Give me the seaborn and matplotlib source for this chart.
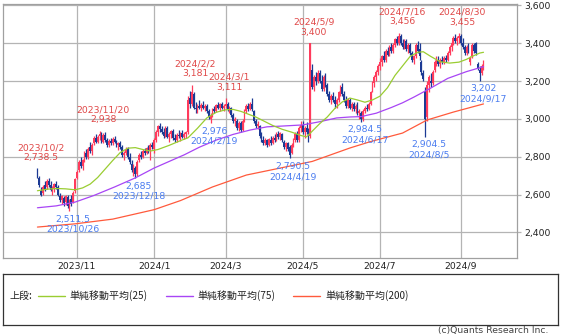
import numpy as np
import pandas as pd
import matplotlib
matplotlib.use("Agg")
import matplotlib.pyplot as plt
import seaborn as sns

# ---------------- data ----------------
holidays = ["2023-10-09", "2023-11-03", "2023-11-23", "2024-01-01", "2024-01-02",
            "2024-01-03", "2024-01-08", "2024-02-12", "2024-02-23", "2024-03-20",
            "2024-04-29", "2024-05-03", "2024-05-06", "2024-07-15", "2024-08-12",
            "2024-09-16"]
first_day = "2023-10-02"
last_day = "2024-09-19"

opens = [
    2735, 2690, 2620, 2610, 2650, 2640, 2670, 2650, 2620, 2630, 2655, 2640, 2590, 2570, 2580, 2560, 2585, 2540, 2575, 2560, 2620,
    2690, 2730, 2770, 2750, 2790, 2820, 2800, 2850, 2830, 2870, 2900, 2880, 2910, 2920, 2880, 2915, 2890, 2860, 2885, 2870,
    2895, 2880, 2860, 2870, 2850, 2810, 2820, 2840, 2800, 2760, 2730, 2740, 2710, 2780, 2810, 2800, 2830, 2820, 2845, 2830, 2860,
    2840, 2890, 2930, 2960, 2945, 2930, 2910, 2950, 2905, 2920, 2935, 2900, 2890, 2915, 2910, 2925, 2905, 2920, 2930,
    3110, 3080, 3130, 3060, 3050, 3070, 3060, 3075, 3060, 3070, 3040, 3000, 3020, 3050, 3040, 3075, 3060, 3080, 3055,
    3070, 3080, 3050, 3060, 3020, 2990, 2990, 2950, 2980, 2940, 2990, 3040, 3070, 3050, 3080, 3040, 2990, 2960, 2960, 2910,
    2890, 2870, 2890, 2860, 2890, 2870, 2900, 2890, 2920, 2905, 2920, 2880, 2850, 2870, 2850, 2820, 2860, 2890, 2920, 2890, 2950,
    2970, 2930, 2950, 2930, 2910, 3260, 3170, 3220, 3200, 3240, 3200, 3160, 3220, 3180, 3130, 3100, 3120, 3100, 3080, 3100, 3140,
    3170, 3130, 3100, 3070, 3100, 3060, 3080, 3050, 3070, 3030, 3030, 3000, 3040, 3060, 3050, 3080, 3150, 3190, 3220, 3250,
    3280, 3300, 3330, 3310, 3360, 3340, 3380, 3360, 3390, 3420, 3400, 3440, 3400, 3380, 3410, 3370, 3390, 3350, 3310, 3330, 3390, 3370,
    3300, 3240, 3150, 3010, 3180, 3200, 3190, 3260, 3300, 3310, 3290, 3310, 3300, 3320, 3310, 3350, 3380, 3400, 3430, 3410, 3430,
    3440, 3400, 3380, 3350, 3380, 3300, 3330, 3390, 3400, 3290, 3260, 3240, 3270,
]
highs = [
    2738.5, 2700, 2640, 2650, 2670, 2680, 2685, 2670, 2645, 2660, 2670, 2650, 2610, 2600, 2590, 2600, 2595, 2575, 2600, 2620, 2690,
    2730, 2780, 2800, 2790, 2830, 2840, 2850, 2880, 2870, 2910, 2920, 2915, 2938, 2930, 2925, 2930, 2900, 2895, 2900, 2905,
    2910, 2890, 2880, 2885, 2860, 2830, 2850, 2850, 2820, 2780, 2760, 2750, 2780, 2820, 2830, 2840, 2845, 2850, 2860, 2870, 2880,
    2900, 2940, 2970, 2980, 2960, 2950, 2960, 2960, 2930, 2940, 2945, 2920, 2925, 2940, 2930, 2940, 2930, 2935, 3120,
    3150, 3181, 3140, 3090, 3080, 3100, 3085, 3095, 3080, 3080, 3050, 3030, 3060, 3070, 3080, 3090, 3085, 3090, 3080,
    3111, 3090, 3070, 3065, 3030, 3010, 3000, 2990, 2990, 3000, 3050, 3080, 3085, 3090, 3110, 3045, 3000, 2990, 2970, 2930,
    2910, 2900, 2895, 2900, 2910, 2910, 2920, 2930, 2935, 2930, 2925, 2890, 2880, 2880, 2860, 2870, 2900, 2930, 2935, 2960, 2990,
    2990, 2960, 2985, 2950, 3400, 3290, 3230, 3250, 3260, 3260, 3230, 3230, 3240, 3190, 3150, 3130, 3140, 3120, 3110, 3150, 3180,
    3190, 3150, 3120, 3110, 3110, 3090, 3090, 3080, 3090, 3050, 3040, 3050, 3070, 3080, 3090, 3150, 3200, 3230, 3260, 3290,
    3320, 3340, 3360, 3370, 3380, 3390, 3400, 3400, 3430, 3440, 3456, 3450, 3420, 3420, 3420, 3400, 3400, 3360, 3340, 3400, 3410, 3400,
    3310, 3260, 3170, 3200, 3230, 3240, 3260, 3310, 3330, 3330, 3320, 3330, 3330, 3340, 3360, 3390, 3410, 3440, 3450, 3440, 3455,
    3450, 3430, 3390, 3390, 3400, 3330, 3400, 3400, 3405, 3300, 3280, 3290, 3310,
]
lows = [
    2690, 2640, 2590, 2600, 2620, 2630, 2640, 2620, 2600, 2615, 2630, 2590, 2560, 2550, 2540, 2545, 2530, 2511.5, 2540, 2555, 2610,
    2680, 2720, 2740, 2730, 2770, 2790, 2790, 2820, 2810, 2860, 2870, 2870, 2890, 2870, 2875, 2880, 2850, 2850, 2860, 2860,
    2870, 2850, 2835, 2840, 2800, 2780, 2810, 2790, 2760, 2720, 2700, 2685, 2700, 2770, 2790, 2795, 2810, 2815, 2820, 2780, 2840,
    2820, 2880, 2910, 2930, 2920, 2900, 2905, 2900, 2880, 2900, 2890, 2880, 2880, 2900, 2885, 2900, 2895, 2900, 2920,
    3060, 3070, 3050, 3030, 3030, 3050, 3040, 3050, 3040, 3030, 3000, 2976, 3010, 3030, 3035, 3050, 3040, 3050, 3040,
    3060, 3040, 3030, 3010, 2980, 2960, 2940, 2935, 2930, 2935, 2985, 3030, 3040, 3045, 3040, 2980, 2950, 2945, 2900, 2880,
    2860, 2860, 2850, 2855, 2860, 2865, 2880, 2885, 2895, 2890, 2880, 2840, 2830, 2830, 2790.5, 2815, 2850, 2880, 2880, 2880, 2930,
    2920, 2900, 2920, 2880, 2900, 3160, 3150, 3180, 3190, 3190, 3150, 3150, 3170, 3120, 3090, 3080, 3090, 3060, 3060, 3090, 3120,
    3120, 3090, 3060, 3060, 3050, 3040, 3040, 3030, 3020, 3000, 2984.5, 2990, 3030, 3040, 3045, 3075, 3140, 3170, 3200, 3230,
    3260, 3280, 3300, 3300, 3330, 3330, 3350, 3350, 3380, 3390, 3390, 3390, 3370, 3370, 3360, 3350, 3340, 3300, 3290, 3320, 3350, 3310,
    3230, 3200, 2904.5, 2990, 3140, 3170, 3180, 3250, 3280, 3280, 3270, 3290, 3290, 3300, 3305, 3340, 3360, 3390, 3400, 3390, 3400,
    3390, 3370, 3340, 3340, 3350, 3285, 3320, 3350, 3340, 3260, 3202, 3230, 3260,
]
closes = [
    2700, 2650, 2600, 2640, 2630, 2670, 2650, 2625, 2640, 2655, 2640, 2600, 2570, 2590, 2555, 2590, 2540, 2570, 2550, 2610, 2680,
    2720, 2770, 2750, 2780, 2820, 2800, 2840, 2830, 2860, 2900, 2880, 2905, 2920, 2880, 2915, 2890, 2860, 2885, 2870, 2895,
    2880, 2860, 2870, 2850, 2810, 2820, 2840, 2800, 2770, 2730, 2750, 2710, 2770, 2810, 2800, 2830, 2820, 2845, 2830, 2860, 2850,
    2890, 2930, 2960, 2945, 2930, 2910, 2950, 2905, 2920, 2935, 2900, 2890, 2915, 2910, 2925, 2905, 2920, 2930, 3100,
    3080, 3140, 3060, 3050, 3070, 3060, 3075, 3060, 3070, 3040, 3010, 3020, 3050, 3040, 3075, 3060, 3080, 3055, 3070,
    3080, 3050, 3060, 3020, 2990, 3000, 2950, 2980, 2940, 2990, 3040, 3070, 3050, 3080, 3050, 2990, 2960, 2975, 2910, 2890,
    2870, 2890, 2860, 2895, 2870, 2900, 2890, 2920, 2905, 2925, 2890, 2850, 2870, 2840, 2810, 2860, 2890, 2920, 2890, 2950, 2970,
    2930, 2950, 2930, 2900, 3400, 3170, 3220, 3200, 3240, 3200, 3160, 3220, 3180, 3130, 3100, 3120, 3100, 3080, 3100, 3140, 3170,
    3130, 3100, 3070, 3100, 3060, 3080, 3050, 3070, 3030, 3040, 3000, 3040, 3060, 3050, 3080, 3140, 3190, 3220, 3250, 3280,
    3300, 3330, 3310, 3360, 3340, 3380, 3360, 3390, 3420, 3400, 3440, 3400, 3380, 3410, 3370, 3390, 3350, 3310, 3330, 3390, 3360, 3330,
    3250, 3210, 3000, 3180, 3220, 3190, 3250, 3300, 3310, 3290, 3310, 3300, 3320, 3310, 3350, 3380, 3400, 3430, 3410, 3430, 3440,
    3400, 3380, 3350, 3380, 3360, 3320, 3390, 3360, 3350, 3270, 3240, 3280, 3300,
]

# moving averages (trading-day index, value)
ma25_idx = [0, 5, 10, 15, 20, 24, 28, 32, 36, 40, 44, 48, 52, 56, 60, 64, 70, 76, 80, 85, 90, 95,
            100, 104, 108, 112, 116, 120, 125, 130, 135, 140, 143, 146, 150, 154, 158, 162, 166,
            170, 174, 178, 182, 186, 190, 194, 198, 202, 205, 209, 214, 219, 224, 228, 232, 235, 237]
ma25_val = [2620, 2628, 2632, 2630, 2625, 2635, 2655, 2690, 2735, 2780, 2822, 2845, 2848, 2838, 2830,
            2838, 2860, 2885, 2900, 2950, 3005, 3035, 3048, 3050, 3040, 3025, 3010, 2990, 2965, 2945,
            2930, 2912, 2905, 2935, 2975, 3010, 3055, 3090, 3110, 3100, 3088, 3100, 3120, 3165, 3230,
            3280, 3330, 3352, 3355, 3330, 3302, 3295, 3300, 3315, 3335, 3348, 3352]
ma75_idx = [0, 10, 20, 30, 41, 52, 62, 70, 78, 86, 95, 104, 113, 122, 130, 141, 150, 159, 166,
            172, 180, 188, 194, 200, 209, 218, 228, 237]
ma75_val = [2530, 2540, 2560, 2595, 2640, 2688, 2740, 2775, 2810, 2850, 2888, 2918, 2941, 2958,
            2962, 2968, 2985, 3005, 3010, 3012, 3030, 3060, 3085, 3115, 3163, 3214, 3250, 3276]
ma200_idx = [0, 20, 40, 62, 76, 93, 111, 129, 146, 166, 177, 194, 207, 221, 237]
ma200_val = [2428, 2445, 2470, 2520, 2568, 2640, 2703, 2740, 2775, 2846, 2880, 2925, 2994, 3036, 3079]

high_dates = ["2023-10-02", "2023-11-20", "2024-02-02", "2024-03-01", "2024-05-09", "2024-07-16", "2024-08-30"]
high_vals = [2738.5, 2938, 3181, 3111, 3400, 3456, 3455]
low_dates = ["2023-10-26", "2023-12-18", "2024-02-19", "2024-04-19", "2024-06-17", "2024-08-05", "2024-09-17"]
low_vals = [2511.5, 2685, 2976, 2790.5, 2984.5, 2904.5, 3202]

month_labels = ["2023/11", "2024/1", "2024/3", "2024/5", "2024/7", "2024/9"]
y_ticks = [2400, 2600, 2800, 3000, 3200, 3400, 3600]
legend_labels = ["単純移動平均(25)", "単純移動平均(75)", "単純移動平均(200)"]

# ---------------- calendar ----------------
dates = pd.bdate_range(first_day, last_day)
dates = dates[~dates.isin(pd.to_datetime(holidays))]
n = len(dates)
for name, arr in [("opens", opens), ("highs", highs), ("lows", lows), ("closes", closes)]:
    if len(arr) != n:
        raise SystemExit(f"{name} has {len(arr)} values, expected {n}")
pos = {d: i for i, d in enumerate(dates)}

def idx_of(s):
    return pos[pd.Timestamp(s)]

month_idx = []
for lab in month_labels:
    y, m = lab.split("/")
    first = dates[(dates.year == int(y)) & (dates.month == int(m))][0]
    month_idx.append(pos[first])

# ---------------- style ----------------
sns.set_style("white")
plt.rcParams["font.family"] = ["DejaVu Sans", "Noto Sans CJK JP"]
UP = "#ff3b5c"
DOWN = "#1c3a94"
C25 = "#9acd32"
C75 = "#a845f5"
C200 = "#ff5a3c"
GRID = "#b4b4b4"
FS = 6.7

fig = plt.figure(figsize=(5.66, 3.34), dpi=100)
W, H = 566, 334
ax = fig.add_axes([3 / W, 1 - 257.7 / H, (517 - 3) / W, (257.7 - 3.5) / H])

O = np.array(opens, float); Hh = np.array(highs, float)
L = np.array(lows, float); C = np.array(closes, float)
x = np.arange(n)
cols = np.where(C >= O, UP, DOWN)
ax.vlines(x, L, Hh, colors=cols, lw=0.9, zorder=2)
body_lo = np.minimum(O, C)
body_h = np.maximum(np.abs(C - O), 4)
ax.bar(x, body_h, bottom=body_lo, width=0.95, color=cols, linewidth=0, zorder=2)

sns.lineplot(x=ma200_idx, y=ma200_val, ax=ax, color=C200, lw=0.9, zorder=3)
sns.lineplot(x=ma75_idx, y=ma75_val, ax=ax, color=C75, lw=0.9, zorder=3)
sns.lineplot(x=ma25_idx, y=ma25_val, ax=ax, color=C25, lw=0.9, zorder=3)

ax.set_xlim(-18.3, 254.8)
ax.set_ylim(2266, 3610)
ax.set_xticks(month_idx)
ax.set_xticklabels(month_labels)
ax.set_yticks(y_ticks)
ax.set_yticklabels([f"{v:,}" for v in y_ticks])
ax.yaxis.tick_right()
ax.grid(True, color=GRID, lw=0.9, zorder=0)
ax.set_axisbelow(True)
ax.tick_params(axis="x", length=0, pad=3, labelsize=FS, colors="#222222")
ax.tick_params(axis="y", length=3, width=0.9, color=GRID, pad=2.5, labelsize=FS, labelcolor="#222222")
for s in ax.spines.values():
    s.set_color("#a0a0a0"); s.set_linewidth(0.9)
ax.set_xlabel(""); ax.set_ylabel("")

def fmt_val(v):
    return f"{v:,.1f}" if v % 1 else f"{int(v):,}"

def fmt_date(s):
    t = pd.Timestamp(s)
    return f"{t.year}/{t.month}/{t.day}"

for d, v in zip(high_dates, high_vals):
    ax.annotate(f"{fmt_date(d)}\n{fmt_val(v)}", xy=(idx_of(d), v), xytext=(2.5, 4.5),
                textcoords="offset points", ha="center", va="bottom", fontsize=FS,
                color="#e04848", linespacing=1.15, zorder=5)
for d, v in zip(low_dates, low_vals):
    ax.annotate(f"{fmt_val(v)}\n{fmt_date(d)}", xy=(idx_of(d), v), xytext=(2.5, -2.5),
                textcoords="offset points", ha="center", va="top", fontsize=FS,
                color="#4a7cf0", linespacing=1.15, zorder=5)

# ---------------- legend box ----------------
lax = fig.add_axes([3 / W, 1 - 324.7 / H, 555 / W, 51 / H])
lax.set_xlim(0, 555); lax.set_ylim(51, 0)
lax.set_xticks([]); lax.set_yticks([])
for s in lax.spines.values():
    s.set_color("#333333"); s.set_linewidth(0.9)
cjk = ["Noto Sans CJK JP", "DejaVu Sans"]
ly = 22.3
LFS = 7.2
lax.text(6, ly, "上段:", fontsize=LFS, family=cjk, va="center", ha="left", color="#222222")
for (x0, x1, tx), c, lab in zip([(35, 62, 66), (163, 190, 194), (290, 317, 322)],
                                [C25, C75, C200], legend_labels):
    lax.plot([x0, x1], [ly, ly], color=c, lw=1.0)
    lax.text(tx, ly, lab, fontsize=LFS, family=cjk, va="center", ha="left", color="#222222")

fig.text(548 / W, 1 - 330 / H, "(c)Quants Research Inc.", ha="right", va="center",
         fontsize=FS, color="#444444")

fig.savefig("out.png", dpi=100)
